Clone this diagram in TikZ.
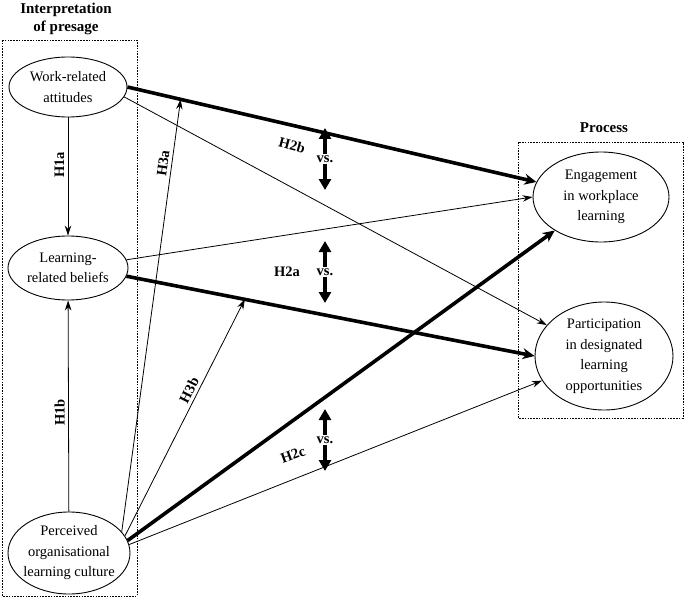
\documentclass[tikz,border=0pt]{standalone}
\usepackage{fontspec}
\setmainfont{Liberation Serif}
\usetikzlibrary{arrows.meta}
\usetikzlibrary{shapes.geometric}
\usetikzlibrary{calc}

\tikzset{
 construct/.style={draw, ellipse, line width=0.9pt, inner sep=0pt},
 ctext/.style={align=center, font=\fontsize{14.5}{20.5}\selectfont},
 groupbox/.style={draw, line width=0.9pt, dash pattern=on 1.6pt off 1.2pt},
 thinpath/.style={line width=0.8pt, -{Stealth[length=10pt,width=6.5pt]}},
 thickpath/.style={line width=3.6pt, -{Stealth[length=12pt,width=11pt]}},
 hyp/.style={font=\fontsize{14.5}{17}\selectfont\bfseries},
 vsarrow/.style={line width=3.4pt, -{Triangle[length=11pt,width=12pt]}},
}

\begin{document}
\begin{tikzpicture}[x=1pt, y=-1pt]
\useasboundingbox (0,0) rectangle (685,599);

% the two groups
\draw[groupbox] (2,40) rectangle (137,596);
\draw[groupbox] (518,142) rectangle (683,418);
\node[hyp, align=center, font=\fontsize{15}{18.5}\selectfont\bfseries] (presage) at (66,19) {Interpretation\\of presage};
\node[hyp, font=\fontsize{15}{18}\selectfont\bfseries] (process) at (604,128) {Process};

% constructs
\node[construct, minimum width=118, minimum height=60,
 label={[ctext]center:Work-related\\attitudes}] (work) at (68,87) {};
\node[construct, minimum width=120, minimum height=64,
 label={[ctext]center:Learning-\\related beliefs}] (learn) at (68,268) {};
\node[construct, minimum width=122, minimum height=82,
 label={[ctext]center:Perceived\\organisational\\learning culture}] (perc) at (69,553) {};
\node[construct, minimum width=136, minimum height=90,
 label={[ctext]center:Engagement\\in workplace\\learning}] (eng) at (601,197) {};
\node[construct, minimum width=138, minimum height=108,
 label={[ctext]center:Participation\\in designated\\learning\\opportunities}] (part) at (604,356) {};

% H1
\draw[thinpath] (work) -- (learn) node[hyp, pos=0.4, rotate=90, above] (h1a) {H1a};
\draw[thinpath] (perc) -- (learn) node[hyp, pos=0.47, rotate=90, above] (h1b) {H1b};

% H2
\draw[thickpath] (work.east) -- (eng) coordinate[pos=0.13] (onwork);
\draw[thinpath] (work.-10) -- (part);
\draw[thinpath] (learn.8) -- (eng.west);
\draw[thickpath] (learn.-8) -- (part.west) coordinate[pos=0.29] (onlearn);
\draw[thickpath] (perc.12) -- (eng);
\draw[thinpath] (perc.8) -- (part);

% H3
\draw[thinpath] (perc.22) -- (onwork) node[hyp, sloped, above, pos=0.85] (h3a) {H3a};
\draw[thinpath] (perc.17) -- (onlearn) node[hyp, sloped, above, pos=0.6] (h3b) {H3b};

\node[hyp, rotate=-15] (h2b) at (292,145) {H2b};
\node[hyp] (h2a) at (287,272) {H2a};
\node[hyp, rotate=20] (h2c) at (293,455) {H2c};

\foreach \n/\y in {1/159,2/272,3/440} {
 \node[hyp, inner sep=1pt] (vs\n) at (325,\y) {vs.};
 \coordinate (vs\n t) at (325,\y-31);
 \coordinate (vs\n b) at (325,\y+31);
 \draw[vsarrow] (vs\n.north) -- (vs\n t);
 \draw[vsarrow] (vs\n.south) -- (vs\n b);
}
\end{tikzpicture}
\end{document}
